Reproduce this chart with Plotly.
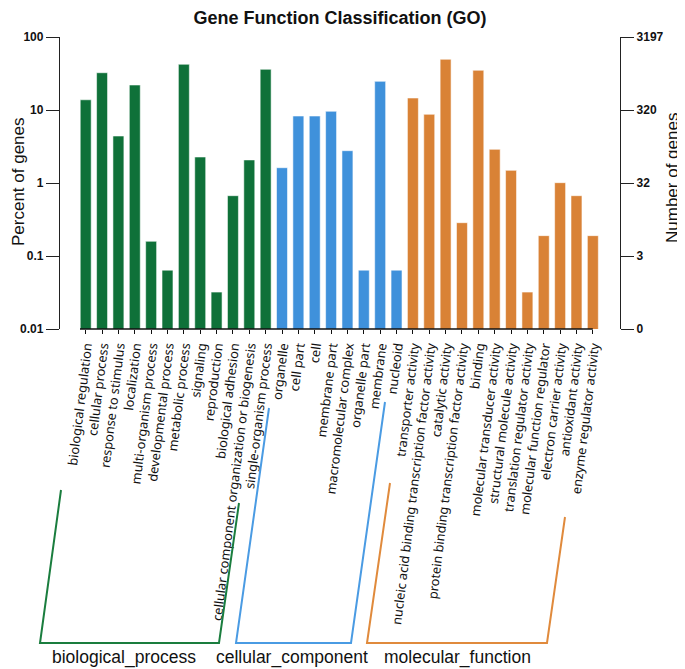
import math
import plotly.graph_objects as go

# ---------------- data ----------------
bp_terms = ["biological regulation", "cellular process", "response to stimulus", "localization",
            "multi-organism process", "developmental process", "metabolic process", "signaling",
            "reproduction", "biological adhesion",
            "cellular component organization or biogenesis", "single-organism process"]
bp_pct = [13.8, 32.4, 4.4, 22.0, 0.159, 0.064, 42.3, 2.27, 0.032, 0.67, 2.07, 36.1]

cc_terms = ["organelle", "cell part", "cell", "membrane part", "macromolecular complex",
            "organelle part", "membrane", "nucleoid"]
cc_pct = [1.62, 8.27, 8.27, 9.6, 2.77, 0.064, 24.7, 0.064]

mf_terms = ["transporter activity", "nucleic acid binding transcription factor activity",
            "catalytic activity", "protein binding transcription factor activity", "binding",
            "molecular transducer activity", "structural molecule activity",
            "translation regulator activity", "molecular function regulator",
            "electron carrier activity", "antioxidant activity", "enzyme regulator activity"]
mf_pct = [14.6, 8.73, 49.5, 0.286, 35.0, 2.89, 1.49, 0.032, 0.19, 1.01, 0.67, 0.19]

group_names = ["biological_process", "cellular_component", "molecular_function"]
total_genes = 3197
left_tickvals = [0.01, 0.1, 1, 10, 100]
left_ticktext = ["0.01", "0.1", "1", "10", "100"]
right_ticktext = ["0", "3", "32", "320", "3197"]

# ---------------- style ----------------
OFF = 8                      # default page body margin
W, H = 685 - OFF, 669 - OFF
PL, PR, PT, PB = 60, 620, 37, 329   # plot area in screen pixels
ML, MT = PL - OFF, PT - OFF
MR = W - (PR - OFF)
MB = H - (PB - OFF)
PW, PH = PR - PL, PB - PT
colors = ["#0f7139", "#3f91db", "#d98236"]
bracket_colors = ["#1a7d3e", "#4a9be3", "#e08a3c"]
lab_font = "Liberation Sans, Arial, sans-serif"
tick_font = "Noto Sans, Open Sans, sans-serif"

def px(xp):
    return (xp - PL) / PW

def py(yp):
    return (PB - yp) / PH

all_terms = bp_terms + cc_terms + mf_terms
fig = go.Figure()
for terms, vals, col in zip([bp_terms, cc_terms, mf_terms], [bp_pct, cc_pct, mf_pct], colors):
    fig.add_trace(go.Bar(x=terms, y=vals, marker=dict(color=col,
                         line=dict(color="rgba(255,255,255,0.55)", width=1)),
                         showlegend=False))

counts = [v * total_genes / 100 for v in bp_pct + cc_pct + mf_pct]
fig.add_trace(go.Scatter(x=all_terms, y=counts, yaxis="y2", mode="none",
                         showlegend=False, hoverinfo="skip"))

right_tickvals = [v * total_genes / 100 for v in left_tickvals]
fig.update_layout(
    width=W, height=H,
    margin=dict(l=ML, r=MR, t=MT, b=MB, autoexpand=False),
    paper_bgcolor="white", plot_bgcolor="white",
    bargap=0.33,
    title=dict(text="Gene Function Classification (GO)", x=(340 - OFF) / W, xanchor="center",
               y=1, yanchor="top", pad=dict(t=3),
               font=dict(family=lab_font, size=18, color="#111", weight="bold")),
    xaxis=dict(type="category", categoryorder="array", categoryarray=all_terms,
               range=[-1.571, 32.66], showline=False, showgrid=False, zeroline=False,
               ticks="outside", ticklen=4, tickwidth=1.3, tickcolor="#111",
               tickangle=-83, automargin=False,
               tickfont=dict(family=tick_font, size=12.8, color="#111")),
    yaxis=dict(type="log", range=[-2, 2], tickvals=left_tickvals, ticktext=left_ticktext,
               showline=True, linecolor="#222", linewidth=1.3, showgrid=False, zeroline=False,
               ticks="outside", ticklen=13, tickwidth=1.3, tickcolor="#222", automargin=False,
               tickfont=dict(family=lab_font, size=12, color="#111", weight="bold")),
    yaxis2=dict(type="log", range=[math.log10(right_tickvals[0]), math.log10(right_tickvals[-1])],
                overlaying="y", side="right",
                tickvals=right_tickvals, ticktext=right_ticktext,
                showline=True, linecolor="#222", linewidth=1.3, showgrid=False, zeroline=False,
                ticks="outside", ticklen=13, tickwidth=1.3, tickcolor="#222", automargin=False,
                tickfont=dict(family=lab_font, size=12, color="#111", weight="bold")),
)

# x axis baseline spanning the bars
fig.add_shape(type="line", xref="x", yref="paper", x0=-0.35, x1=31, y0=0, y1=0,
              line=dict(color="#111", width=1.4))

# axis titles
fig.add_annotation(text="Percent of genes", xref="paper", yref="paper", x=px(18), y=py(182),
                   textangle=-90, showarrow=False, xanchor="center", yanchor="middle",
                   font=dict(family=lab_font, size=17, color="#111"))
fig.add_annotation(text="Number of genes", xref="paper", yref="paper", x=px(672), y=py(178),
                   textangle=-90, showarrow=False, xanchor="center", yanchor="middle",
                   font=dict(family=lab_font, size=17, color="#111"))

# group brackets (screen pixel positions)
brackets = [
    [(61, 490), (40, 643), (219, 643), (239, 503)],
    [(269, 408), (236, 643), (351, 643), (385, 402)],
    [(390, 483), (367, 643), (547, 643), (565, 517)],
]
label_x = [124, 292, 457]
for pts, col, name, lx in zip(brackets, bracket_colors, group_names, label_x):
    path = "M " + " L ".join(f"{px(a):.5f},{py(b):.5f}" for a, b in pts)
    fig.add_shape(type="path", xref="paper", yref="paper", path=path,
                  line=dict(color=col, width=2))
    fig.add_annotation(text=name, xref="paper", yref="paper", x=px(lx), y=py(657),
                       showarrow=False, xanchor="center", yanchor="middle",
                       font=dict(family=lab_font, size=17.5, color="#111"))

fig.write_html("out.html")
